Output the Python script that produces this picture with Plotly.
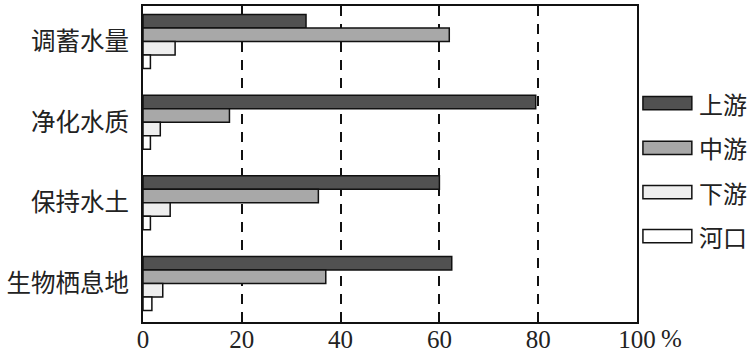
import plotly.graph_objects as go

categories = ["调蓄水量", "净化水质", "保持水土", "生物栖息地"]
series_names = ["上游", "中游", "下游", "河口"]
upstream = [33, 79.5, 60, 62.5]
midstream = [62, 17.5, 35.5, 37]
downstream = [6.5, 3.5, 5.5, 4]
estuary = [1.5, 1.5, 1.5, 1.8]
series_values = [upstream, midstream, downstream, estuary]
colors = ["#515151", "#a8a8a8", "#eeeeee", "#ffffff"]
x_ticks = [0, 20, 40, 60, 80, 100]
x_ticktext = ["0", "20", "40", "60", "80", "100"]

CJK = "Noto Sans CJK SC"
SERIF = "Liberation Serif"

fig = go.Figure()
for name, vals, col in zip(series_names, series_values, colors):
    fig.add_trace(go.Bar(
        y=categories, x=vals, name=name, orientation="h",
        marker=dict(color=col, line=dict(color="#111111", width=1.5)),
        showlegend=False,
    ))

# manual legend with wide swatches
leg_y = [0.693, 0.551, 0.411, 0.272]
for name, col, yc in zip(series_names, colors, leg_y):
    fig.add_shape(type="rect", xref="paper", yref="paper",
                  x0=1.012, x1=1.111, y0=yc - 0.021, y1=yc + 0.021,
                  fillcolor=col, line=dict(color="#111111", width=1.5))
    fig.add_annotation(xref="paper", yref="paper", x=1.122, y=yc,
                       text=name, showarrow=False, xanchor="left",
                       yanchor="middle",
                       font=dict(family=CJK, size=24, color="#222222"))

fig.add_annotation(xref="paper", yref="paper", x=1.046, y=0,
                   yshift=-16, text="%", showarrow=False, borderpad=0,
                   xanchor="left", yanchor="middle",
                   font=dict(family=SERIF, size=25, color="#222222"))

fig.update_layout(
    width=756, height=353,
    margin=dict(l=143, r=119, t=6, b=31),
    paper_bgcolor="white", plot_bgcolor="white",
    barmode="group", bargap=0.33, bargroupgap=0,
    xaxis=dict(
        range=[0, 100], tickvals=x_ticks, ticktext=x_ticktext,
        showgrid=True, gridcolor="#111111", gridwidth=2,
        griddash="10px,8px", zeroline=False, automargin=False,
        showline=True, mirror=True, linecolor="#111111", linewidth=2,
        ticks="", ticklabelstandoff=-6,
        tickfont=dict(family=SERIF, size=25, color="#222222"),
    ),
    yaxis=dict(
        type="category", categoryorder="array", categoryarray=categories,
        range=[3.477, -0.44], automargin=False,
        showline=True, mirror=True, linecolor="#111111", linewidth=2,
        showgrid=False, ticks="", ticklabelstandoff=7,
        tickfont=dict(family=CJK, size=24.5, color="#222222"),
    ),
)

fig.write_html("out.html")
